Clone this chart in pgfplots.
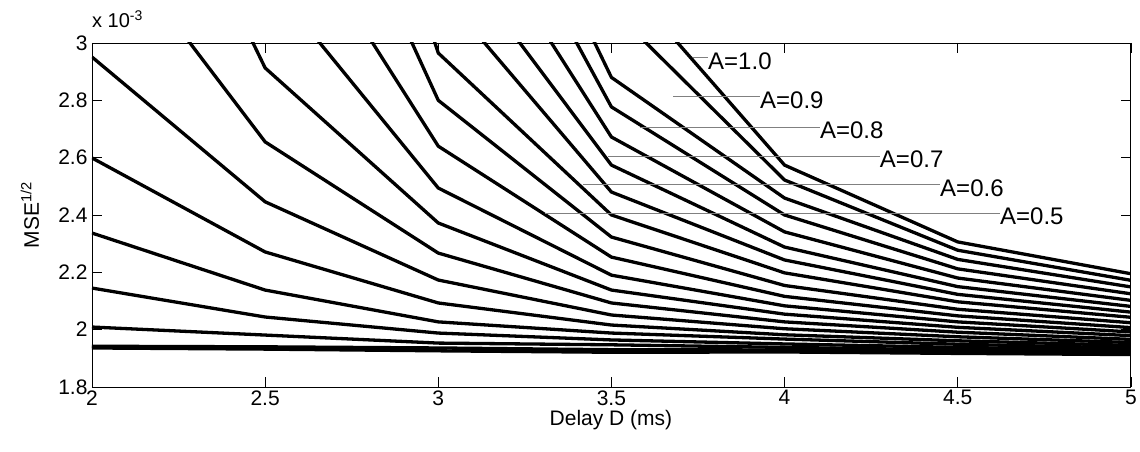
\documentclass[border=0pt]{standalone}
\usepackage{fontspec}
\setmainfont{Liberation Sans}
\usepackage{pgfplots}
\pgfplotsset{compat=1.18}
\tikzset{curve/.style={black, solid, mark=none, line width=3.3pt, line join=round}}
\begin{document}
\begin{tikzpicture}
\path (-92pt,-65pt) rectangle (1048pt,387pt);
\begin{axis}[
  at={(0pt,0pt)}, anchor=south west,
  scale only axis, width=1039pt, height=344pt,
  xmin=2, xmax=5, ymin=1.8, ymax=3,
  xtick={2,2.5,3,3.5,4,4.5,5},
  xticklabels={2,2.5,3,3.5,4,4.5,5},
  ytick={1.8,2,2.2,2.4,2.6,2.8,3},
  yticklabels={1.8,2,2.2,2.4,2.6,2.8,3},
  tick label style={font=\fontsize{21}{24}\selectfont},
  /pgf/number format/assume math mode=true,
  tick align=inside, major tick length=10pt,
  tick style={black, line width=0.6pt},
  axis line style={black, line width=0.8pt},
  yticklabel style={xshift=-1pt},
]
% curves from bottom (A=0.05) to top (A=1.0)
\addplot[curve] coordinates {(2,1.936) (2.5,1.932) (3,1.926) (3.5,1.921) (4,1.922) (4.5,1.917) (5,1.913)};
\addplot[curve] coordinates {(2,1.942) (2.5,1.940) (3,1.936) (3.5,1.930) (4,1.929) (4.5,1.922) (5,1.917)};
\addplot[curve] coordinates {(2,2.009) (2.5,1.981) (3,1.953) (3.5,1.947) (4,1.938) (4.5,1.929) (5,1.922)};
\addplot[curve] coordinates {(2,2.145) (2.5,2.044) (3,1.988) (3.5,1.964) (4,1.950) (4.5,1.938) (5,1.928)};
\addplot[curve] coordinates {(2,2.337) (2.5,2.138) (3,2.027) (3.5,1.988) (4,1.967) (4.5,1.949) (5,1.936)};
\addplot[curve] coordinates {(2,2.599) (2.5,2.271) (3,2.093) (3.5,2.016) (4,1.982) (4.5,1.961) (5,1.945)};
\addplot[curve] coordinates {(2,2.951) (2.5,2.446) (3,2.173) (3.5,2.051) (4,2.003) (4.5,1.975) (5,1.955)};
\addplot[curve] coordinates {(2,3.45) (2.5,2.655) (3,2.267) (3.5,2.093) (4,2.027) (4.5,1.991) (5,1.966)};
\addplot[curve] coordinates {(2,4.16) (2.5,2.913) (3,2.372) (3.5,2.138) (4,2.054) (4.5,2.008) (5,1.979)};
\addplot[curve] coordinates {(2,4.9) (2.5,3.234) (3,2.494) (3.5,2.190) (4,2.083) (4.5,2.027) (5,1.992)};
\addplot[curve] coordinates {(2,5.7) (2.5,3.59) (3,2.640) (3.5,2.253) (4,2.116) (4.5,2.048) (5,2.007)};
\addplot[curve] coordinates {(2,6.5) (2.5,4.12) (3,2.800) (3.5,2.323) (4,2.154) (4.5,2.071) (5,2.024)};
\addplot[curve] coordinates {(2,7.3) (2.5,4.8) (3,2.965) (3.5,2.400) (4,2.198) (4.5,2.097) (5,2.043)};
\addplot[curve] coordinates {(2,8.1) (2.5,5.5) (3,3.19) (3.5,2.480) (4,2.243) (4.5,2.123) (5,2.061)};
\addplot[curve] coordinates {(2,8.9) (2.5,6.2) (3,3.38) (3.5,2.574) (4,2.288) (4.5,2.150) (5,2.081)};
\addplot[curve] coordinates {(2,9.7) (2.5,6.9) (3,3.62) (3.5,2.672) (4,2.341) (4.5,2.180) (5,2.102)};
\addplot[curve] coordinates {(2,10.5) (2.5,7.6) (3,3.89) (3.5,2.777) (4,2.400) (4.5,2.212) (5,2.125)};
\addplot[curve] coordinates {(2,11.3) (2.5,8.3) (3,4.13) (3.5,2.880) (4,2.459) (4.5,2.245) (5,2.149)};
\addplot[curve] coordinates {(2,12.1) (2.5,9.0) (3,4.7) (3.5,3.120) (4,2.522) (4.5,2.277) (5,2.172)};
\addplot[curve] coordinates {(2,12.9) (2.5,9.7) (3,5.0) (3.5,3.265) (4,2.574) (4.5,2.306) (5,2.195)};
% annotations
\begin{scope}[gray, line width=0.8pt]
\draw (axis cs:3.735,2.948) -- (axis cs:3.779,2.948);
\draw (axis cs:3.678,2.812) -- (axis cs:3.929,2.812);
\draw (axis cs:3.582,2.707) -- (axis cs:4.102,2.707);
\draw (axis cs:3.490,2.606) -- (axis cs:4.275,2.606);
\draw (axis cs:3.418,2.505) -- (axis cs:4.449,2.505);
\draw (axis cs:3.308,2.407) -- (axis cs:4.622,2.407);
\end{scope}
\begin{scope}[every node/.style={anchor=west, inner sep=0pt, font=\fontsize{24}{28}\selectfont, yshift=-3pt}]
\node at (axis cs:3.779,2.948) {A=1.0};
\node at (axis cs:3.929,2.812) {A=0.9};
\node at (axis cs:4.102,2.707) {A=0.8};
\node at (axis cs:4.275,2.606) {A=0.7};
\node at (axis cs:4.449,2.505) {A=0.6};
\node at (axis cs:4.622,2.407) {A=0.5};
\end{scope}
\end{axis}
\node[font=\fontsize{21}{24}\selectfont] at (519pt,-33pt) {Delay D (ms)};
\node[font=\fontsize{21}{24}\selectfont, rotate=90] at (-62pt,172pt) {MSE\textsuperscript{1/2}};
\node[anchor=base west, inner sep=0pt, font=\fontsize{20}{24}\selectfont] at (0pt,359pt) {x 10\textsuperscript{-3}};
\end{tikzpicture}
\end{document}
